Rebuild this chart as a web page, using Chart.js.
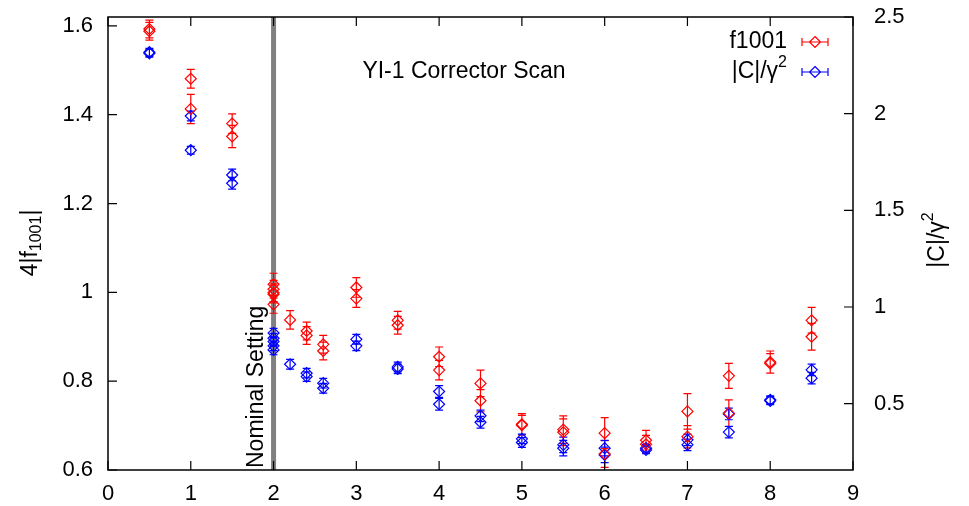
<!DOCTYPE html>
<html>
<head>
<meta charset="utf-8">
<script src="https://cdn.jsdelivr.net/npm/chart.js@4.4.1/dist/chart.umd.min.js"></script>
<style>
  body { margin: 0; background: #fff; }
  #wrap { width: 969px; height: 506px; position: relative; }
</style>
</head>
<body>
<div id="wrap"><canvas id="scanChart"></canvas></div>
<script>
// corrector setting (x) for each measurement
const f1001X = [0.5, 0.5, 1, 1, 1.5, 1.5, 2, 2, 2, 2, 2, 2.2, 2.4, 2.4, 2.6, 2.6, 3, 3,
  3.5, 3.5, 4, 4, 4.5, 4.5, 5, 5, 5.5, 5.5, 6, 6, 6.5, 6.5, 7, 7, 7.5, 7.5, 8, 8, 8.5, 8.5];
const f1001Y = [1.593, 1.588, 1.481, 1.413, 1.380, 1.351, 1.018, 1.007, 0.999, 0.996, 0.973, 0.938,
  0.913, 0.903, 0.883, 0.868, 1.011, 0.986, 0.937, 0.926, 0.855, 0.825, 0.795, 0.756,
  0.703, 0.701, 0.691, 0.685, 0.683, 0.636, 0.667, 0.658, 0.732, 0.675, 0.812, 0.728,
  0.843, 0.840, 0.937, 0.900];
const f1001Err = [0.02, 0.02, 0.021, 0.033, 0.022, 0.025, 0.025, 0.02, 0.02, 0.02, 0.02, 0.021,
  0.02, 0.02, 0.02, 0.02, 0.022, 0.02, 0.02, 0.02, 0.022, 0.022, 0.03, 0.025,
  0.024, 0.022, 0.031, 0.03, 0.035, 0.03, 0.022, 0.02, 0.04, 0.025, 0.028, 0.03,
  0.025, 0.022, 0.029, 0.03];

const cX = [0.5, 0.5, 1, 1, 1.5, 1.5, 2, 2, 2, 2, 2, 2.2, 2.4, 2.4, 2.6, 2.6, 3, 3,
  3.5, 3.5, 4, 4, 4.5, 4.5, 5, 5, 5.5, 5.5, 6, 6, 6.5, 6.5, 7, 7, 7.5, 7.5, 8, 8, 8.5, 8.5];
const cY = [2.318, 2.312, 1.988, 1.811, 1.683, 1.640, 0.865, 0.839, 0.821, 0.799, 0.778, 0.704,
  0.658, 0.640, 0.606, 0.580, 0.833, 0.799, 0.690, 0.680, 0.563, 0.497, 0.437, 0.404,
  0.318, 0.299, 0.287, 0.270, 0.270, 0.235, 0.270, 0.261, 0.313, 0.287, 0.447, 0.353,
  0.520, 0.515, 0.675, 0.632];
const cErr = [0.02, 0.02, 0.025, 0.02, 0.03, 0.03, 0.025, 0.025, 0.025, 0.025, 0.025, 0.025,
  0.025, 0.025, 0.025, 0.025, 0.025, 0.025, 0.025, 0.025, 0.03, 0.03, 0.03, 0.03,
  0.025, 0.025, 0.04, 0.04, 0.04, 0.04, 0.02, 0.02, 0.03, 0.03, 0.03, 0.03,
  0.02, 0.02, 0.03, 0.03];

const xTicks = [0, 1, 2, 3, 4, 5, 6, 7, 8, 9];
const leftTicks = [0.6, 0.8, 1, 1.2, 1.4, 1.6];
const rightTicks = [0.5, 1, 1.5, 2, 2.5];
const nominalSetting = 2;

const FONT = "'Liberation Sans', Arial, sans-serif";
const RED = "#ff0000";
const BLUE = "#0000ff";

const toPoints = (xs, ys) => xs.map((x, i) => ({ x: x, y: ys[i] }));

// pin the axis boxes so the plot frame sits where gnuplot put it
const fixBox = (w, h) => (scale) => {
  if (w !== null) scale.width = w;
  if (h !== null) scale.height = h;
  scale.paddingTop = 0;
  scale.paddingBottom = 0;
  scale.paddingLeft = 0;
  scale.paddingRight = 0;
};

// gnuplot style frame, inward ticks, error bars, labels
const gnuplotBits = {
  id: "gnuplotBits",
  beforeDatasetsDraw(chart) {
    const { ctx, chartArea, scales } = chart;
    const gx = scales.x.getPixelForValue(nominalSetting);
    ctx.save();
    ctx.strokeStyle = "#808080";
    ctx.lineWidth = 5;
    ctx.beginPath();
    ctx.moveTo(gx, chartArea.top);
    ctx.lineTo(gx, chartArea.bottom);
    ctx.stroke();

    ctx.fillStyle = "#000";
    ctx.font = "23px " + FONT;
    ctx.translate(gx - 11, chartArea.bottom - 2);
    ctx.rotate(-Math.PI / 2);
    ctx.textAlign = "left";
    ctx.textBaseline = "alphabetic";
    ctx.fillText("Nominal Setting", 0, 0);
    ctx.restore();

    // error bars
    ctx.save();
    ctx.beginPath();
    ctx.rect(chartArea.left, chartArea.top, chartArea.width, chartArea.height);
    ctx.clip();
    ctx.lineWidth = 1.2;
    const bars = [
      [f1001X, f1001Y, f1001Err, scales.y, RED],
      [cX, cY, cErr, scales.y2, BLUE],
    ];
    bars.forEach(([xs, ys, es, sc, col]) => {
      ctx.strokeStyle = col;
      ctx.beginPath();
      xs.forEach((x, i) => {
        const px = scales.x.getPixelForValue(x);
        const top = sc.getPixelForValue(ys[i] + es[i]);
        const bot = sc.getPixelForValue(ys[i] - es[i]);
        ctx.moveTo(px, top);
        ctx.lineTo(px, bot);
        ctx.moveTo(px - 4, top);
        ctx.lineTo(px + 4, top);
        ctx.moveTo(px - 4, bot);
        ctx.lineTo(px + 4, bot);
      });
      ctx.stroke();
    });
    ctx.restore();
  },
  afterDraw(chart) {
    const { ctx, chartArea, scales } = chart;
    const { left, right, top, bottom } = chartArea;
    ctx.save();
    ctx.strokeStyle = "#000";
    ctx.lineWidth = 1.5;
    ctx.strokeRect(left, top, right - left, bottom - top);

    const tl = 9;
    ctx.lineWidth = 1.2;
    ctx.beginPath();
    xTicks.forEach((v) => {
      const px = scales.x.getPixelForValue(v);
      ctx.moveTo(px, bottom);
      ctx.lineTo(px, bottom - tl);
      ctx.moveTo(px, top);
      ctx.lineTo(px, top + tl);
    });
    leftTicks.forEach((v) => {
      const py = scales.y.getPixelForValue(v);
      ctx.moveTo(left, py);
      ctx.lineTo(left + tl, py);
    });
    rightTicks.forEach((v) => {
      const py = scales.y2.getPixelForValue(v);
      ctx.moveTo(right, py);
      ctx.lineTo(right - tl, py);
    });
    ctx.stroke();

    // title inside plot
    ctx.fillStyle = "#000";
    ctx.font = "23px " + FONT;
    ctx.textAlign = "center";
    ctx.textBaseline = "middle";
    ctx.fillText("YI-1 Corrector Scan", 464, 72);

    // legend
    const legendRows = [
      { y: 42, color: RED, parts: [["f1001", 0]] },
      { y: 72, color: BLUE, parts: [["|C|/\u03b3", 0], ["2", -9]] },
    ];
    legendRows.forEach((row) => {
      let w = 0;
      row.parts.forEach(([t, dy]) => {
        ctx.font = (dy ? "16px " : "23px ") + FONT;
        w += ctx.measureText(t).width;
      });
      let x = 787 - w;
      ctx.textAlign = "left";
      row.parts.forEach(([t, dy]) => {
        ctx.font = (dy ? "16px " : "23px ") + FONT;
        ctx.fillStyle = "#000";
        ctx.fillText(t, x, row.y + dy);
        x += ctx.measureText(t).width;
      });
      ctx.strokeStyle = row.color;
      ctx.lineWidth = 1.2;
      ctx.beginPath();
      ctx.moveTo(802, row.y);
      ctx.lineTo(828, row.y);
      ctx.moveTo(802, row.y - 4);
      ctx.lineTo(802, row.y + 4);
      ctx.moveTo(828, row.y - 4);
      ctx.lineTo(828, row.y + 4);
      ctx.moveTo(815, row.y - 5.5);
      ctx.lineTo(820.5, row.y);
      ctx.lineTo(815, row.y + 5.5);
      ctx.lineTo(809.5, row.y);
      ctx.closePath();
      ctx.stroke();
    });

    // axis titles
    const drawRotated = (cx, cy, parts) => {
      let w = 0;
      parts.forEach(([t, size]) => {
        ctx.font = size + "px " + FONT;
        w += ctx.measureText(t).width;
      });
      ctx.save();
      ctx.translate(cx, cy);
      ctx.rotate(-Math.PI / 2);
      ctx.textAlign = "left";
      ctx.textBaseline = "middle";
      let x = -w / 2;
      parts.forEach(([t, size, dy]) => {
        ctx.font = size + "px " + FONT;
        ctx.fillText(t, x, dy);
        x += ctx.measureText(t).width;
      });
      ctx.restore();
    };
    drawRotated(31, 243, [["4|f", 23, 0], ["1001", 16, 6], ["|", 23, 0]]);
    drawRotated(938, 240, [["|C|/\u03b3", 23, 0], ["2", 16, -9]]);
    ctx.restore();
  },
};

const ctx = document.getElementById("scanChart").getContext("2d");

window.scanChart = new Chart(ctx, {
  type: "scatter",
  data: {
    datasets: [
      {
        label: "f1001",
        data: toPoints(f1001X, f1001Y),
        yAxisID: "y",
        borderColor: RED,
        backgroundColor: "rgba(0,0,0,0)",
        pointStyle: "rectRot",
        pointRadius: 5.5,
        borderWidth: 1.2,
      },
      {
        label: "|C|/\u03b3\u00b2",
        data: toPoints(cX, cY),
        yAxisID: "y2",
        borderColor: BLUE,
        backgroundColor: "rgba(0,0,0,0)",
        pointStyle: "rectRot",
        pointRadius: 5.5,
        borderWidth: 1.2,
      },
    ],
  },
  options: {
    responsive: true,
    maintainAspectRatio: false,
    animation: false,
    layout: { padding: { top: 17, left: 0, right: 0, bottom: 0 } },
    scales: {
      x: {
        type: "linear",
        min: 0,
        max: 9,
        grid: { display: false, drawTicks: false },
        border: { display: false },
        afterBuildTicks: (scale) => {
          scale.ticks = xTicks.map((v) => ({ value: v }));
        },
        afterFit: fixBox(null, 36),
        ticks: {
          color: "#000",
          padding: 11,
          maxRotation: 0,
          font: { family: FONT, size: 22 },
        },
      },
      y: {
        position: "left",
        min: 0.6,
        max: 1.62,
        grid: { display: false, drawTicks: false },
        border: { display: false },
        afterBuildTicks: (scale) => {
          scale.ticks = leftTicks.map((v) => ({ value: v }));
        },
        afterFit: fixBox(108, null),
        ticks: {
          color: "#000",
          padding: 15,
          font: { family: FONT, size: 22 },
          callback: (v) => String(v),
        },
      },
      y2: {
        position: "right",
        min: 0.157,
        max: 2.5,
        grid: { display: false, drawTicks: false },
        border: { display: false },
        afterBuildTicks: (scale) => {
          scale.ticks = rightTicks.map((v) => ({ value: v }));
        },
        afterFit: fixBox(116, null),
        ticks: {
          color: "#000",
          padding: 21,
          font: { family: FONT, size: 22 },
          callback: (v) => String(v),
        },
      },
    },
    plugins: {
      legend: { display: false },
      tooltip: { enabled: false },
    },
  },
  plugins: [gnuplotBits],
});
</script>
</body>
</html>
